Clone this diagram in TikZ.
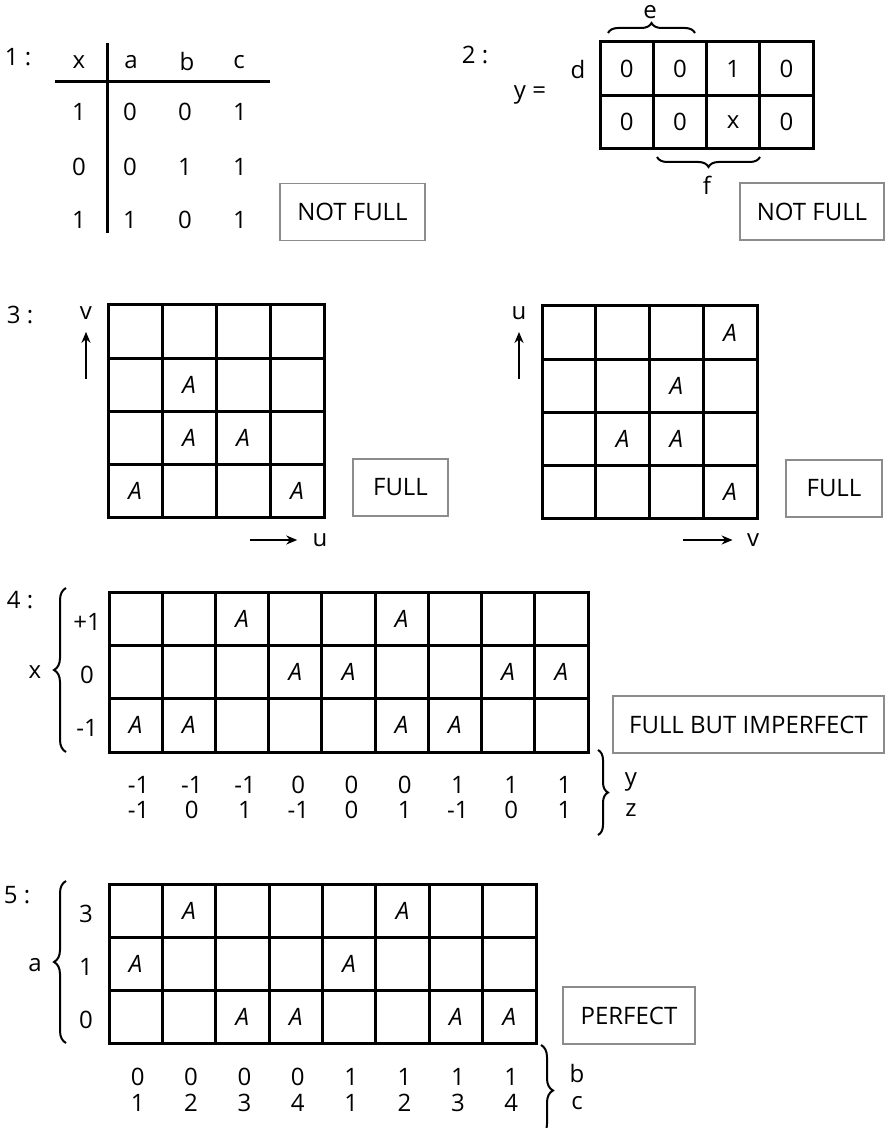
\documentclass[tikz,border=0pt]{standalone}
\usepackage{fontspec}
\setmainfont{Open Sans}
\usetikzlibrary{decorations.pathreplacing, arrows.meta}

\begin{document}
\begin{tikzpicture}[x=0.5pt, y=-0.5pt, >={Stealth[length=5.5pt, width=4.5pt]},
    txt/.style={inner sep=1pt, font=\fontsize{12}{14}\selectfont},
    aletter/.style={inner sep=1pt, font=\fontsize{12}{14}\selectfont\itshape},
    gridline/.style={line width=1.5pt},
    verdict/.style={draw=black!45, line width=0.8pt, inner sep=0pt,
      minimum height=28.5pt, font=\fontsize{12}{14}\selectfont},
    curly/.style={decorate, decoration={brace, amplitude=#1}, line width=1pt},
    axisarrow/.style={->, line width=1pt},
  ]
  \useasboundingbox (0,0) rectangle (885,1128);

  % 1: truth table
  \node[txt] (n1) at (18,57) {1 :};
  \draw[gridline] (107,43) -- (107,233);
  \draw[gridline] (55,82) -- (270,82);
  \node[txt] (t1x) at (79,62) {x};
  \foreach \name/\xx in {a/131, b/187, c/239}
    \node[txt] (t1\name) at (\xx,62) {\name};
  \foreach \r/\yy/\vx/\va/\vb/\vc in {1/112/1/0/0/1, 2/167/0/0/1/1, 3/220/1/1/0/1} {
    \node[txt] (t1-\r-x) at (79,\yy) {\vx};
    \node[txt] (t1-\r-a) at (130,\yy) {\va};
    \node[txt] (t1-\r-b) at (185,\yy) {\vb};
    \node[txt] (t1-\r-c) at (240,\yy) {\vc};
  }
  \node[verdict, minimum width=72.5pt] (v1) at (352.5,212) {NOT FULL};

  % 2: map with e and f
  \node[txt] (n2) at (475,55) {2 :};
  \node[txt] (yeq) at (530,95) {y =};
  \node[txt] (d2) at (578,70) {d};
  \begin{scope}[shift={(600,42)}]
    \draw[gridline] (0,0) rectangle (213,107);
    \foreach \i in {1,2,3}
      \draw[gridline] (\i*53.25,0) -- (\i*53.25,107);
    \draw[gridline] (0,53.5) -- (213,53.5);
    \foreach \c/\r/\v in {1/1/0, 2/1/0, 3/1/1, 4/1/0, 1/2/0, 2/2/0, 3/2/x, 4/2/0}
      \node[txt] (k2-\c-\r) at ({(\c-0.5)*53.25},{(\r-0.5)*53.5}) {\v};
  \end{scope}
  \draw[curly=5pt] (608,33) -- (695,33);
  \node[txt] (e2) at (650,12) {e};
  \draw[curly=5pt] (760,157) -- (657,157);
  \node[txt] (f2) at (707,185) {f};
  \node[verdict, minimum width=72pt] (v2) at (812,211.5) {NOT FULL};

  % 3: two 4x4 maps
  \node[txt] (n3) at (20,315) {3 :};
  \node[txt] (v3) at (86,313) {v};
  \coordinate (v3tail) at (86,379);
  \draw[axisarrow, shorten >=5pt] (v3tail) -- (v3.south);
  \begin{scope}[shift={(108,305)}]
    \draw[gridline] (0,0) rectangle (216,212);
    \foreach \i in {1,2,3} {
      \draw[gridline] (\i*54,0) -- (\i*54,212);
      \draw[gridline] (0,\i*53) -- (216,\i*53);
    }
    \foreach \c/\r in {2/2, 2/3, 3/3, 1/4, 4/4}
      \node[aletter] (A3-\c-\r) at ({(\c-0.5)*54},{(\r-0.5)*53}) {A};
  \end{scope}
  \coordinate (u3tail) at (250,540);
  \node[txt] (u3) at (320,540) {u};
  \draw[axisarrow, shorten >=6.5pt] (u3tail) -- (u3.west);
  \node[verdict, minimum width=47.5pt] (v3a) at (400.5,487.5) {FULL};

  \node[txt] (u3b) at (519,313) {u};
  \coordinate (u3btail) at (519,379);
  \draw[axisarrow, shorten >=5pt] (u3btail) -- (u3b.south);
  \begin{scope}[shift={(542,306)}]
    \draw[gridline] (0,0) rectangle (215,212);
    \foreach \i in {1,2,3} {
      \draw[gridline] (\i*53.75,0) -- (\i*53.75,212);
      \draw[gridline] (0,\i*53) -- (215,\i*53);
    }
    \foreach \c/\r in {4/1, 3/2, 2/3, 3/3, 4/4}
      \node[aletter] (B3-\c-\r) at ({(\c-0.5)*53.75},{(\r-0.5)*53}) {A};
  \end{scope}
  \coordinate (v3btail) at (683,540);
  \node[txt] (v3b) at (753,540) {v};
  \draw[axisarrow, shorten >=6pt] (v3btail) -- (v3b.west);
  \node[verdict, minimum width=48pt] (v3c) at (834,488.5) {FULL};

  % 4: x against y,z
  \node[txt] (n4) at (20,600) {4 :};
  \draw[curly=6pt] (66,752) -- (66,588);
  \node[txt] (x4) at (35,672) {x};
  \foreach \r/\v in {1/+1, 2/0, 3/-1}
    \node[txt] (x4-\r) at (87,{592+(\r-0.5)*53.33+3}) {\v};
  \begin{scope}[shift={(109,592)}]
    \draw[gridline] (0,0) rectangle (479,160);
    \foreach \i in {1,...,8}
      \draw[gridline] (\i*53.22,0) -- (\i*53.22,160);
    \foreach \i in {1,2}
      \draw[gridline] (0,\i*53.33) -- (479,\i*53.33);
    \foreach \c/\r in {3/1, 6/1, 4/2, 5/2, 8/2, 9/2, 1/3, 2/3, 6/3, 7/3}
      \node[aletter] (A4-\c-\r) at ({(\c-0.5)*53.22},{(\r-0.5)*53.33}) {A};
    \foreach \c/\vy/\vz in {1/-1/-1, 2/-1/0, 3/-1/1, 4/0/-1, 5/0/0, 6/0/1, 7/1/-1, 8/1/0, 9/1/1} {
      \node[txt] (y4-\c) at ({(\c-0.5)*53.22+3},193) {\vy};
      \node[txt] (z4-\c) at ({(\c-0.5)*53.22+3},218) {\vz};
    }
  \end{scope}
  \draw[curly=5pt] (598,750) -- (598,835);
  \node[txt] (y4) at (631,782) {y};
  \node[txt] (z4) at (631,810) {z};
  \node[verdict, minimum width=135.5pt] (v4) at (748.5,724.5) {FULL BUT IMPERFECT};

  % 5: a against b,c
  \node[txt] (n5) at (17,895) {5 :};
  \draw[curly=6pt] (66,1043) -- (66,881);
  \node[txt] (a5) at (35,965) {a};
  \foreach \r/\v in {1/3, 2/1, 3/0}
    \node[txt] (a5-\r) at (86,{884+(\r-0.5)*53+3}) {\v};
  \begin{scope}[shift={(109,884)}]
    \draw[gridline] (0,0) rectangle (427,159);
    \foreach \i in {1,...,7}
      \draw[gridline] (\i*53.375,0) -- (\i*53.375,159);
    \foreach \i in {1,2}
      \draw[gridline] (0,\i*53) -- (427,\i*53);
    \foreach \c/\r in {2/1, 6/1, 1/2, 5/2, 3/3, 4/3, 7/3, 8/3}
      \node[aletter] (A5-\c-\r) at ({(\c-0.5)*53.375},{(\r-0.5)*53}) {A};
    \foreach \c/\vb/\vc in {1/0/1, 2/0/2, 3/0/3, 4/0/4, 5/1/1, 6/1/2, 7/1/3, 8/1/4} {
      \node[txt] (b5-\c) at ({(\c-0.5)*53.375+2},193) {\vb};
      \node[txt] (c5-\c) at ({(\c-0.5)*53.375+2},219) {\vc};
    }
  \end{scope}
  \draw[curly=6pt] (541,1045) -- (541,1136);
  \node[txt] (b5) at (577,1073) {b};
  \node[txt] (c5) at (577,1103) {c};
  \node[verdict, minimum width=66pt] (v5) at (629,1015.5) {PERFECT};
\end{tikzpicture}
\end{document}
